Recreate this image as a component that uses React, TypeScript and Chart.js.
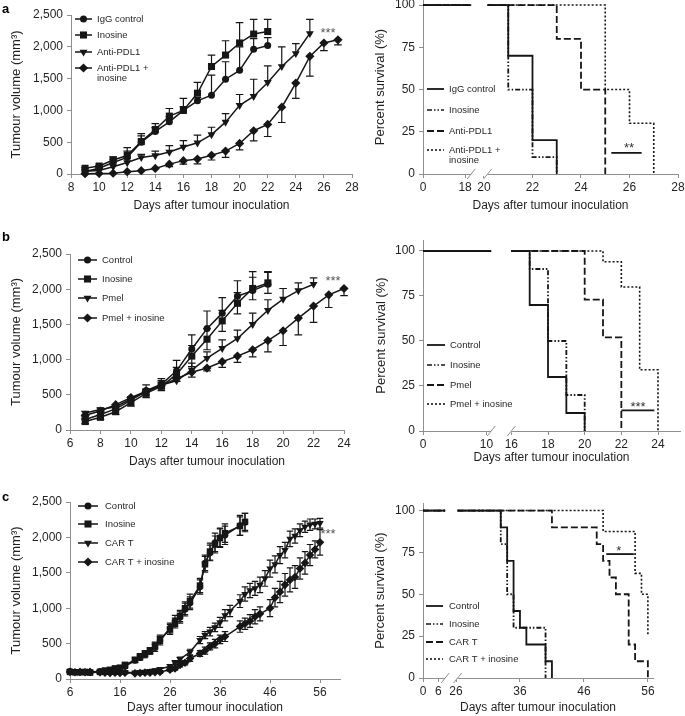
import React, { useEffect, useRef } from 'react';
import { Chart, registerables } from 'chart.js';

Chart.register(...registerables);

const FONT = "'Liberation Sans', Arial, Helvetica, sans-serif";
const TEXT = '#231f20';
const AXIS = '#8f8f8f';
const INK = '#161616';

/* ================= a: tumour volume ================= */
const A_DAYS = [9, 10, 11, 12, 13, 14, 15, 16, 17, 18, 19, 20, 21, 22, 23, 24, 25, 26, 27];
const A_IGG = [40, 90, 180, 260, 500, 670, 820, 1000, 1150, 1240, 1490, 1630, 1960, 2020];
const A_IGG_ERR = [0, 10, 50, 100, 100, 60, 80, 60, 50, 315, 275, 370, 170, 125];
const A_INO = [90, 125, 220, 290, 510, 700, 910, 1000, 1270, 1690, 1870, 2060, 2200, 2240];
const A_INO_ERR = [10, 10, 50, 125, 125, 93, 120, 190, 170, 180, 225, 320, 230, 190];
const A_PDL1 = [45, 55, 115, 180, 260, 290, 345, 425, 490, 620, 815, 1080, 1220, 1440, 1690, 1895, 2210];
const A_PDL1_ERR = [0, 0, 0, 0, 50, 70, 100, 100, 120, 115, 135, 170, 270, 260, 310, 155, 220];
const A_COMBO = [5, 8, 12, 36, 52, 88, 155, 210, 235, 295, 360, 480, 680, 780, 1050, 1430, 1850, 2060, 2110];
const A_COMBO_ERR = [0, 0, 0, 0, 0, 0, 40, 55, 75, 75, 100, 100, 160, 190, 240, 240, 310, 120, 80];
const A_X_TICKS = [8, 10, 12, 14, 16, 18, 20, 22, 24, 26, 28];
const A_LABELS = ['IgG control', 'Inosine', 'Anti-PDL1', 'Anti-PDL1 +\ninosine'];

/* a: survival */
const SA_IGG_T = [0, 21, 22, 23];
const SA_IGG_S = [100, 70, 20, 0];
const SA_INO_T = [0, 21, 22, 23];
const SA_INO_S = [100, 50, 10, 0];
const SA_PDL1_T = [0, 23, 24, 25];
const SA_PDL1_S = [100, 80, 50, 0];
const SA_COMBO_T = [0, 25, 26, 27];
const SA_COMBO_S = [100, 50, 30, 0];
const SA_X_TICKS = [0, 18, 20, 22, 24, 26, 28];
const SA_SIG_X = [25.25, 26.5];
const SA_SIG_Y = 12.5;

/* ================= b ================= */
const B_DAYS = [7, 8, 9, 10, 11, 12, 13, 14, 15, 16, 17, 18, 19, 20, 21, 22, 23, 24];
const B_CTRL = [150, 220, 300, 420, 560, 650, 840, 1150, 1440, 1660, 1900, 1980, 2070];
const B_CTRL_ERR = [20, 30, 30, 40, 80, 80, 150, 200, 250, 220, 220, 270, 180];
const B_INO = [120, 180, 260, 390, 520, 620, 790, 1050, 1290, 1550, 1800, 2010, 2090];
const B_INO_ERR = [30, 30, 40, 50, 60, 60, 100, 150, 150, 150, 150, 160, 150];
const B_PMEL = [240, 290, 330, 440, 540, 640, 700, 850, 1020, 1160, 1300, 1500, 1700, 1860, 1980, 2070];
const B_PMEL_ERR = [20, 20, 30, 30, 40, 60, 60, 100, 90, 120, 120, 160, 150, 150, 110, 90];
const B_COMBO = [210, 270, 360, 460, 550, 630, 730, 820, 880, 970, 1050, 1140, 1270, 1410, 1590, 1760, 1920, 2010];
const B_COMBO_ERR = [20, 20, 30, 40, 50, 40, 40, 70, 40, 80, 90, 100, 160, 210, 240, 230, 180, 100];
const B_X_TICKS = [6, 8, 10, 12, 14, 16, 18, 20, 22, 24];
const B_LABELS = ['Control', 'Inosine', 'Pmel', 'Pmel + inosine'];

const SB_CTRL_T = [0, 17, 18, 19, 20];
const SB_CTRL_S = [100, 70, 30, 10, 0];
const SB_INO_T = [0, 17, 18, 19, 20];
const SB_INO_S = [100, 90, 50, 20, 0];
const SB_PMEL_T = [0, 20, 21, 22];
const SB_PMEL_S = [100, 73, 52, 0];
const SB_COMBO_T = [0, 21, 22, 23, 24];
const SB_COMBO_S = [100, 94, 80, 34, 0];
const SB_X_TICKS = [0, 10, 16, 18, 20, 22, 24];
const SB_SIG_X = [22, 23.8];
const SB_SIG_Y = 11.5;

/* ================= c ================= */
const C_DAYS_CI = [6, 7, 8, 9, 10, 12, 13, 14, 15, 16, 17, 19, 20, 21, 22, 23, 24, 26, 27, 28, 29, 30, 32, 33, 34, 35, 36, 37, 40, 41];
const C_CTRL = [110, 100, 100, 95, 100, 110, 110, 120, 130, 150, 180, 260, 300, 340, 390, 440, 540, 720, 820, 870, 980, 1070, 1300, 1640, 1780, 1930, 2000, 2030, 2170, 2210];
const C_CTRL_ERR = [20, 15, 15, 15, 15, 20, 20, 20, 25, 30, 30, 30, 35, 40, 40, 50, 60, 70, 80, 80, 90, 90, 100, 110, 110, 130, 130, 130, 140, 130];
const C_INO = [100, 95, 95, 100, 90, 100, 120, 130, 150, 160, 200, 270, 320, 360, 400, 470, 560, 700, 790, 890, 1000, 1100, 1320, 1620, 1800, 1900, 1990, 2060, 2160, 2220];
const C_INO_ERR = [15, 15, 15, 15, 15, 20, 20, 25, 25, 30, 30, 35, 35, 40, 45, 50, 60, 70, 70, 80, 90, 100, 100, 110, 120, 120, 130, 130, 130, 120];
const C_DAYS_CART = [6, 7, 8, 9, 10, 12, 13, 14, 15, 16, 17, 19, 20, 21, 22, 23, 24, 26, 27, 28, 30, 32, 33, 34, 35, 36, 37, 38, 40, 41, 42, 43, 44, 45, 46, 47, 48, 49, 50, 51, 52, 53, 54, 55, 56];
const C_CART = [110, 105, 100, 100, 100, 95, 95, 90, 95, 90, 95, 90, 95, 100, 110, 120, 140, 180, 230, 280, 380, 550, 620, 670, 730, 800, 900, 960, 1100, 1200, 1250, 1280, 1330, 1420, 1560, 1620, 1750, 1820, 1980, 2020, 2100, 2150, 2180, 2190, 2200];
const C_CART_ERR = [15, 15, 15, 15, 15, 15, 15, 15, 15, 15, 15, 15, 15, 15, 20, 20, 20, 25, 30, 30, 40, 50, 50, 60, 60, 70, 80, 80, 90, 100, 100, 100, 110, 110, 120, 120, 120, 110, 110, 100, 90, 80, 80, 70, 70];
const C_DAYS_COMBO = [6, 7, 8, 9, 10, 12, 13, 14, 15, 16, 17, 19, 20, 21, 22, 23, 24, 26, 27, 28, 29, 30, 32, 33, 34, 35, 36, 37, 40, 41, 42, 43, 44, 46, 47, 48, 49, 50, 51, 52, 53, 54, 55, 56];
const C_COMBO = [100, 95, 100, 95, 100, 95, 90, 85, 90, 85, 90, 80, 85, 90, 90, 95, 100, 130, 150, 200, 230, 290, 360, 400, 460, 500, 560, 600, 740, 780, 820, 880, 920, 1000, 1150, 1230, 1330, 1400, 1440, 1560, 1640, 1750, 1830, 1930];
const C_COMBO_ERR = [15, 15, 15, 15, 15, 15, 15, 15, 15, 15, 15, 15, 15, 15, 15, 15, 20, 20, 25, 30, 30, 40, 40, 50, 50, 60, 60, 70, 80, 80, 90, 100, 100, 120, 130, 150, 160, 170, 160, 150, 160, 150, 120, 180];
const C_X_TICKS = [6, 16, 26, 36, 46, 56];
const C_LABELS = ['Control', 'Inosine', 'CAR T', 'CAR T + inosine'];

const SC_CTRL_T = [0, 33, 34, 35, 36, 37, 40, 41];
const SC_CTRL_S = [100, 90, 70, 40, 30, 20, 10, 0];
const SC_INO_T = [0, 33, 34, 35, 40];
const SC_INO_S = [100, 80, 50, 30, 0];
const SC_CART_T = [0, 41, 48, 49, 50, 51, 53, 54, 56];
const SC_CART_S = [100, 90, 80, 70, 60, 50, 20, 10, 0];
const SC_COMBO_T = [0, 49, 54, 55, 56];
const SC_COMBO_S = [100, 87.5, 62.5, 50, 25];
const SC_X_TICKS = [0, 6, 26, 36, 46, 56];
const SC_SIG_X = [49.5, 53.8];
const SC_SIG_Y = 74;

const VOL_TICKS = [0, 500, 1000, 1500, 2000, 2500];
const SURV_TICKS = [0, 25, 50, 75, 100];

/* ================= helpers ================= */
type Box = { x: number; y: number; w: number; h: number };
type Area = { l: number; t: number; r: number; b: number };
type Marker = { style: string; r: number; rot: number };
type Brk = { v0: number; k: number; pre: number; gap: [number, number] };

const MK = {
  circle: { style: 'circle', r: 3.5, rot: 0 },
  square: { style: 'rect', r: 5, rot: 0 },
  tri: { style: 'triangle', r: 4.6, rot: 180 },
  diamond: { style: 'rectRot', r: 4.6, rot: 0 },
};
const MK_C = {
  circle: { style: 'circle', r: 3.2, rot: 0 },
  square: { style: 'rect', r: 4.6, rot: 0 },
  tri: { style: 'triangle', r: 4.3, rot: 180 },
  diamond: { style: 'rectRot', r: 4.3, rot: 0 },
};

const DASH_INO = [5, 2, 1.5, 2, 1.5, 2];
const DASH_ANTI = [7, 3];
const DASH_COMBO = [2, 2];

function drawMarker(ctx: CanvasRenderingContext2D, m: Marker, x: number, y: number) {
  ctx.beginPath();
  const r = m.r;
  if (m.style === 'circle') {
    ctx.arc(x, y, r, 0, Math.PI * 2);
  } else if (m.style === 'rect') {
    const s = r * Math.SQRT1_2;
    ctx.rect(x - s, y - s, 2 * s, 2 * s);
  } else if (m.style === 'triangle') {
    let rad = (m.rot * Math.PI) / 180;
    for (let i = 0; i < 3; i++) {
      const px = x + Math.sin(rad) * r;
      const py = y - Math.cos(rad) * r;
      if (i === 0) ctx.moveTo(px, py);
      else ctx.lineTo(px, py);
      rad += (2 * Math.PI) / 3;
    }
    ctx.closePath();
  } else {
    ctx.moveTo(x, y - r);
    ctx.lineTo(x + r, y);
    ctx.lineTo(x, y + r);
    ctx.lineTo(x - r, y);
    ctx.closePath();
  }
  ctx.fillStyle = INK;
  ctx.fill();
}

function volSet(label: string, days: number[], vals: number[], m: Marker) {
  return {
    label,
    data: vals.map((v, i) => ({ x: days[i], y: v })),
    borderColor: INK,
    backgroundColor: INK,
    borderWidth: 1.5,
    pointStyle: m.style,
    pointRadius: m.r,
    pointRotation: m.rot,
    pointBorderWidth: 0,
    pointBackgroundColor: INK,
    tension: 0,
    clip: false,
  };
}

function mapper(b: Brk) {
  return (d: number) => (d <= b.pre ? b.v0 + d * b.k : d);
}

function survPoints(T: number[], S: number[], b: Brk) {
  const map = mapper(b);
  const pts: { x: number; y: number | null }[] = [];
  let prevX = map(T[0]);
  let y = S[0];
  pts.push({ x: prevX, y });
  for (let i = 1; i < T.length; i++) {
    const x = map(T[i]);
    if (prevX < b.gap[0] && x > b.gap[1]) {
      pts.push({ x: b.gap[0], y });
      pts.push({ x: (b.gap[0] + b.gap[1]) / 2, y: null });
      pts.push({ x: b.gap[1], y });
    }
    pts.push({ x, y });
    y = S[i];
    pts.push({ x, y });
    prevX = x;
  }
  return pts;
}

function survSet(label: string, T: number[], S: number[], b: Brk, dash: number[], width = 1.8) {
  return {
    label,
    data: survPoints(T, S, b),
    borderColor: INK,
    borderWidth: width,
    borderDash: dash,
    borderCapStyle: 'butt',
    pointRadius: 0,
    fill: false,
    tension: 0,
    spanGaps: false,
    clip: false,
  };
}

function sigSet(xs: number[], y: number) {
  return {
    label: 'sig',
    data: xs.map((x) => ({ x, y })),
    borderColor: INK,
    borderWidth: 1.8,
    pointRadius: 0,
    fill: false,
    clip: false,
  };
}

type ErrSpec = { days: number[]; vals: number[]; err: number[]; dir: 'up' | 'down' | 'both' };
type LegItem = { label: string; marker?: Marker; dash?: number[]; width?: number };
type Decor = {
  errs?: ErrSpec[];
  cap?: number;
  legend?: { x1: number; x2: number; tx: number; ys: number[]; items: LegItem[] };
  notes?: { x: number; y: number; text: string; size: number; color: string }[];
  brk?: Brk;
};

type Spec = {
  box: Box;
  area: Area;
  datasets: any[];
  x: { min: number; max: number; ticks: number[]; labels?: string[]; title: string; titlePad: number };
  y: { min: number; max: number; ticks: number[]; fmt: (v: number) => string; title: string; titlePad: number };
  decor: Decor;
};

function decorPlugin(spec: Spec) {
  const { box, decor } = spec;
  return {
    id: 'decor',
    beforeDatasetsDraw(chart: any) {
      if (!decor.errs) return;
      const ctx: CanvasRenderingContext2D = chart.ctx;
      const xs = chart.scales.x;
      const ys = chart.scales.y;
      const cap = decor.cap || 3.5;
      ctx.save();
      ctx.strokeStyle = INK;
      ctx.lineWidth = 1.2;
      ctx.setLineDash([]);
      for (const e of decor.errs) {
        e.vals.forEach((v, i) => {
          const d = e.err[i];
          if (!d) return;
          const px = xs.getPixelForValue(e.days[i]);
          const hi = e.dir === 'down' ? v : v + d;
          const lo = e.dir === 'up' ? v : v - d;
          const y1 = ys.getPixelForValue(hi);
          const y2 = ys.getPixelForValue(lo);
          ctx.beginPath();
          ctx.moveTo(px, y1);
          ctx.lineTo(px, y2);
          if (e.dir !== 'down') {
            ctx.moveTo(px - cap, y1);
            ctx.lineTo(px + cap, y1);
          }
          if (e.dir !== 'up') {
            ctx.moveTo(px - cap, y2);
            ctx.lineTo(px + cap, y2);
          }
          ctx.stroke();
        });
      }
      ctx.restore();
    },
    afterDraw(chart: any) {
      const ctx: CanvasRenderingContext2D = chart.ctx;
      const xs = chart.scales.x;
      const ys = chart.scales.y;
      ctx.save();
      // axis break
      if (decor.brk) {
        const yp = chart.chartArea.bottom;
        const p1 = xs.getPixelForValue(decor.brk.gap[0]);
        const p2 = xs.getPixelForValue(decor.brk.gap[1]);
        ctx.fillStyle = '#ffffff';
        ctx.fillRect(p1, yp - 2, p2 - p1, 4);
        ctx.strokeStyle = AXIS;
        ctx.lineWidth = 1;
        ctx.setLineDash([]);
        for (const p of [p1, p2]) {
          ctx.beginPath();
          ctx.moveTo(p - 4, yp + 5);
          ctx.lineTo(p + 4, yp - 5);
          ctx.stroke();
        }
      }
      // legend
      if (decor.legend) {
        const L = decor.legend;
        ctx.font = `9.5px ${FONT}`;
        ctx.textBaseline = 'middle';
        ctx.textAlign = 'left';
        L.items.forEach((it, i) => {
          const y = L.ys[i] - box.y;
          const x1 = L.x1 - box.x;
          const x2 = L.x2 - box.x;
          ctx.strokeStyle = INK;
          ctx.lineWidth = it.width || 1.5;
          ctx.setLineDash(it.dash || []);
          ctx.beginPath();
          ctx.moveTo(x1, y);
          ctx.lineTo(x2, y);
          ctx.stroke();
          ctx.setLineDash([]);
          if (it.marker) drawMarker(ctx, it.marker, (x1 + x2) / 2, y);
          ctx.fillStyle = TEXT;
          it.label.split('\n').forEach((ln, j) => {
            ctx.fillText(ln, L.tx - box.x, y + j * 10.5);
          });
        });
      }
      // notes (significance asterisks)
      if (decor.notes) {
        for (const n of decor.notes) {
          ctx.font = `${n.size}px ${FONT}`;
          ctx.fillStyle = n.color;
          ctx.textAlign = 'center';
          ctx.textBaseline = 'alphabetic';
          const px = xs.getPixelForValue(n.x);
          const py = ys.getPixelForValue(n.y);
          ctx.fillText(n.text, px, py + n.size * 0.575);
        }
      }
      ctx.restore();
    },
  };
}

function buildChart(canvas: HTMLCanvasElement, spec: Spec) {
  const { box, area } = spec;
  const xH = box.y + box.h - area.b;
  const yW = area.l - box.x;
  const tickFont = { family: FONT, size: 12 };
  const xLabel = (v: number) => {
    if (spec.x.labels) {
      let best = 0;
      spec.x.ticks.forEach((t, i) => {
        if (Math.abs(t - v) < Math.abs(spec.x.ticks[best] - v)) best = i;
      });
      return spec.x.labels[best];
    }
    return String(v);
  };
  return new Chart(canvas, {
    type: 'line',
    data: { datasets: spec.datasets },
    options: {
      animation: false,
      responsive: false,
      maintainAspectRatio: false,
      devicePixelRatio: 1,
      events: [],
      layout: { padding: { left: 0, top: area.t - box.y, right: box.x + box.w - area.r, bottom: 0 } },
      plugins: { legend: { display: false }, tooltip: { enabled: false } },
      scales: {
        x: {
          type: 'linear',
          position: 'bottom',
          min: spec.x.min,
          max: spec.x.max,
          afterBuildTicks: (s: any) => {
            s.ticks = spec.x.ticks.map((v) => ({ value: v }));
          },
          afterFit: (s: any) => {
            s.height = xH;
            s.paddingLeft = 0;
            s.paddingRight = 0;
          },
          grid: { drawOnChartArea: false, drawTicks: true, tickLength: 4, color: AXIS, lineWidth: 1 },
          border: { display: true, color: AXIS, width: 1 },
          ticks: {
            autoSkip: false,
            maxRotation: 0,
            minRotation: 0,
            padding: 2,
            color: TEXT,
            font: tickFont,
            callback: (v: any) => xLabel(Number(v)),
          },
          title: {
            display: true,
            text: spec.x.title,
            color: TEXT,
            font: { family: FONT, size: 12 },
            padding: { top: 0, bottom: spec.x.titlePad },
          },
        },
        y: {
          type: 'linear',
          position: 'left',
          min: spec.y.min,
          max: spec.y.max,
          afterBuildTicks: (s: any) => {
            s.ticks = spec.y.ticks.map((v) => ({ value: v }));
          },
          afterFit: (s: any) => {
            s.width = yW;
            s.paddingTop = 0;
            s.paddingBottom = 0;
          },
          grid: { drawOnChartArea: false, drawTicks: true, tickLength: 4, color: AXIS, lineWidth: 1 },
          border: { display: true, color: AXIS, width: 1 },
          ticks: {
            autoSkip: false,
            padding: 4,
            color: TEXT,
            font: tickFont,
            callback: (v: any) => spec.y.fmt(Number(v)),
          },
          title: {
            display: true,
            text: spec.y.title,
            color: TEXT,
            font: { family: FONT, size: 13 },
            padding: { top: spec.y.titlePad, bottom: 0 },
          },
        },
      },
    } as any,
    plugins: [decorPlugin(spec) as any],
  });
}

const volFmt = (v: number) => v.toLocaleString('en-US');
const VOL_TITLE = 'Tumour volume (mm³)';
const SURV_TITLE = 'Percent survival (%)';
const X_TITLE = 'Days after tumour inoculation';

/* ================= specs ================= */
const SA_BRK: Brk = { v0: 17.485, k: 0.0964, pre: 18, gap: [19.47, 20.15] };
const SB_BRK: Brk = { v0: 11.18, k: 0.346, pre: 10, gap: [14.9, 16.0] };
const SC_BRK: Brk = { v0: 20.84, k: 0.4, pre: 6, gap: [24.3, 26.25] };

function specs(): Spec[] {
  const aL: Spec = {
    box: { x: 0, y: 0, w: 362, h: 216 },
    area: { l: 71, t: 15, r: 352, b: 174 },
    datasets: [
      volSet(A_LABELS[0], A_DAYS, A_IGG, MK.circle),
      volSet(A_LABELS[1], A_DAYS, A_INO, MK.square),
      volSet(A_LABELS[2], A_DAYS, A_PDL1, MK.tri),
      volSet(A_LABELS[3], A_DAYS, A_COMBO, MK.diamond),
    ],
    x: { min: 8, max: 28, ticks: A_X_TICKS, title: X_TITLE, titlePad: 2.8 },
    y: { min: 0, max: 2500, ticks: VOL_TICKS, fmt: volFmt, title: VOL_TITLE, titlePad: 8.2 },
    decor: {
      cap: 3.8,
      errs: [
        { days: A_DAYS, vals: A_IGG, err: A_IGG_ERR, dir: 'up' },
        { days: A_DAYS, vals: A_INO, err: A_INO_ERR, dir: 'up' },
        { days: A_DAYS, vals: A_PDL1, err: A_PDL1_ERR, dir: 'up' },
        { days: A_DAYS, vals: A_COMBO, err: A_COMBO_ERR, dir: 'down' },
      ],
      legend: {
        x1: 75, x2: 92, tx: 97, ys: [19, 35, 52, 68],
        items: [
          { label: A_LABELS[0], marker: MK.circle },
          { label: A_LABELS[1], marker: MK.square },
          { label: A_LABELS[2], marker: MK.tri },
          { label: A_LABELS[3], marker: MK.diamond },
        ],
      },
      notes: [{ x: 26.29, y: 2264, text: '***', size: 13, color: '#555' }],
    },
  };
  const aR: Spec = {
    box: { x: 366, y: 0, w: 319, h: 216 },
    area: { l: 423, t: 0, r: 678, b: 174 },
    datasets: [
      survSet(A_LABELS[0], SA_IGG_T, SA_IGG_S, SA_BRK, []),
      survSet(A_LABELS[1], SA_INO_T, SA_INO_S, SA_BRK, DASH_INO),
      survSet(A_LABELS[2], SA_PDL1_T, SA_PDL1_S, SA_BRK, DASH_ANTI),
      survSet(A_LABELS[3], SA_COMBO_T, SA_COMBO_S, SA_BRK, DASH_COMBO, 1.6),
      sigSet(SA_SIG_X, SA_SIG_Y),
    ],
    x: {
      min: SA_BRK.v0, max: 28, ticks: SA_X_TICKS.map(mapper(SA_BRK)), labels: SA_X_TICKS.map(String),
      title: X_TITLE, titlePad: 2.8,
    },
    y: { min: 0, max: 103, ticks: SURV_TICKS, fmt: (v) => String(v), title: SURV_TITLE, titlePad: 6.2 },
    decor: {
      brk: SA_BRK,
      legend: {
        x1: 427, x2: 444, tx: 449, ys: [89, 110, 131, 150],
        items: [
          { label: A_LABELS[0], width: 1.8 },
          { label: A_LABELS[1], dash: DASH_INO, width: 1.6 },
          { label: A_LABELS[2], dash: DASH_ANTI, width: 1.8 },
          { label: A_LABELS[3], dash: DASH_COMBO, width: 1.6 },
        ],
      },
      notes: [{ x: 25.98, y: 17.2, text: '**', size: 13, color: '#333' }],
    },
  };
  const bL: Spec = {
    box: { x: 0, y: 222, w: 362, h: 250 },
    area: { l: 70, t: 254, r: 344, b: 430 },
    datasets: [
      volSet(B_LABELS[0], B_DAYS, B_CTRL, MK.circle),
      volSet(B_LABELS[1], B_DAYS, B_INO, MK.square),
      volSet(B_LABELS[2], B_DAYS, B_PMEL, MK.tri),
      volSet(B_LABELS[3], B_DAYS, B_COMBO, MK.diamond),
    ],
    x: { min: 6, max: 24, ticks: B_X_TICKS, title: X_TITLE, titlePad: 2.8 },
    y: { min: 0, max: 2500, ticks: VOL_TICKS, fmt: volFmt, title: VOL_TITLE, titlePad: 8.2 },
    decor: {
      cap: 3.8,
      errs: [
        { days: B_DAYS, vals: B_CTRL, err: B_CTRL_ERR, dir: 'up' },
        { days: B_DAYS, vals: B_INO, err: B_INO_ERR, dir: 'both' },
        { days: B_DAYS, vals: B_PMEL, err: B_PMEL_ERR, dir: 'up' },
        { days: B_DAYS, vals: B_COMBO, err: B_COMBO_ERR, dir: 'down' },
      ],
      legend: {
        x1: 78, x2: 97, tx: 102, ys: [260, 279, 298, 318],
        items: [
          { label: B_LABELS[0], marker: MK.circle },
          { label: B_LABELS[1], marker: MK.square },
          { label: B_LABELS[2], marker: MK.tri },
          { label: B_LABELS[3], marker: MK.diamond },
        ],
      },
      notes: [{ x: 23.28, y: 2163, text: '***', size: 13, color: '#555' }],
    },
  };
  const bR: Spec = {
    box: { x: 366, y: 222, w: 319, h: 250 },
    area: { l: 423, t: 240, r: 680, b: 431 },
    datasets: [
      survSet(B_LABELS[0], SB_CTRL_T, SB_CTRL_S, SB_BRK, []),
      survSet(B_LABELS[1], SB_INO_T, SB_INO_S, SB_BRK, DASH_INO),
      survSet(B_LABELS[2], SB_PMEL_T, SB_PMEL_S, SB_BRK, DASH_ANTI),
      survSet(B_LABELS[3], SB_COMBO_T, SB_COMBO_S, SB_BRK, DASH_COMBO, 1.6),
      sigSet(SB_SIG_X, SB_SIG_Y),
    ],
    x: {
      min: SB_BRK.v0, max: 25.2, ticks: SB_X_TICKS.map(mapper(SB_BRK)), labels: SB_X_TICKS.map(String),
      title: X_TITLE, titlePad: 6.8,
    },
    y: { min: 0, max: 106.1, ticks: SURV_TICKS, fmt: (v) => String(v), title: SURV_TITLE, titlePad: 7.9 },
    decor: {
      brk: SB_BRK,
      legend: {
        x1: 427, x2: 445, tx: 450, ys: [345, 365, 385, 404],
        items: [
          { label: B_LABELS[0], width: 1.8 },
          { label: B_LABELS[1], dash: DASH_INO, width: 1.6 },
          { label: B_LABELS[2], dash: DASH_ANTI, width: 1.8 },
          { label: B_LABELS[3], dash: DASH_COMBO, width: 1.6 },
        ],
      },
      notes: [{ x: 22.91, y: 15.4, text: '***', size: 13, color: '#333' }],
    },
  };
  const cL: Spec = {
    box: { x: 0, y: 478, w: 362, h: 238 },
    area: { l: 70, t: 502, r: 340, b: 679 },
    datasets: [
      volSet(C_LABELS[0], C_DAYS_CI, C_CTRL, MK_C.circle),
      volSet(C_LABELS[1], C_DAYS_CI, C_INO, MK_C.square),
      volSet(C_LABELS[2], C_DAYS_CART, C_CART, MK_C.tri),
      volSet(C_LABELS[3], C_DAYS_COMBO, C_COMBO, MK_C.diamond),
    ],
    x: { min: 6, max: 60, ticks: C_X_TICKS, title: X_TITLE, titlePad: 0.8 },
    y: { min: 0, max: 2500, ticks: VOL_TICKS, fmt: volFmt, title: VOL_TITLE, titlePad: 8.2 },
    decor: {
      cap: 3.2,
      errs: [
        { days: C_DAYS_CI, vals: C_CTRL, err: C_CTRL_ERR, dir: 'both' },
        { days: C_DAYS_CI, vals: C_INO, err: C_INO_ERR, dir: 'both' },
        { days: C_DAYS_CART, vals: C_CART, err: C_CART_ERR, dir: 'both' },
        { days: C_DAYS_COMBO, vals: C_COMBO, err: C_COMBO_ERR, dir: 'both' },
      ],
      legend: {
        x1: 78, x2: 98, tx: 105, ys: [506, 524, 543, 562],
        items: [
          { label: C_LABELS[0], marker: MK.circle },
          { label: C_LABELS[1], marker: MK.square },
          { label: C_LABELS[2], marker: MK.tri },
          { label: C_LABELS[3], marker: MK.diamond },
        ],
      },
      notes: [{ x: 57.6, y: 2101, text: '***', size: 13, color: '#555' }],
    },
  };
  const cR: Spec = {
    box: { x: 366, y: 478, w: 319, h: 238 },
    area: { l: 423, t: 503, r: 653, b: 678 },
    datasets: [
      survSet(C_LABELS[0], SC_CTRL_T, SC_CTRL_S, SC_BRK, []),
      survSet(C_LABELS[1], SC_INO_T, SC_INO_S, SC_BRK, DASH_INO),
      survSet(C_LABELS[2], SC_CART_T, SC_CART_S, SC_BRK, DASH_ANTI),
      survSet(C_LABELS[3], SC_COMBO_T, SC_COMBO_S, SC_BRK, DASH_COMBO, 1.6),
      sigSet(SC_SIG_X, SC_SIG_Y),
    ],
    x: {
      min: SC_BRK.v0, max: 56.8, ticks: SC_X_TICKS.map(mapper(SC_BRK)), labels: SC_X_TICKS.map(String),
      title: X_TITLE, titlePad: 0.8,
    },
    y: { min: 0, max: 104.5, ticks: SURV_TICKS, fmt: (v) => String(v), title: SURV_TITLE, titlePad: 6.2 },
    decor: {
      brk: SC_BRK,
      legend: {
        x1: 426, x2: 443, tx: 449, ys: [606, 624, 642, 659],
        items: [
          { label: C_LABELS[0], width: 1.8 },
          { label: C_LABELS[1], dash: DASH_INO, width: 1.6 },
          { label: C_LABELS[2], dash: DASH_ANTI, width: 1.8 },
          { label: C_LABELS[3], dash: DASH_COMBO, width: 1.6 },
        ],
      },
      notes: [{ x: 51.45, y: 77.9, text: '*', size: 13, color: '#333' }],
    },
  };
  return [aL, aR, bL, bR, cL, cR];
}

function ChartCanvas({ spec }: { spec: Spec }) {
  const ref = useRef<HTMLCanvasElement>(null);
  useEffect(() => {
    const ch = buildChart(ref.current as HTMLCanvasElement, spec);
    return () => ch.destroy();
  }, []);
  const { box } = spec;
  return (
    <div style={{ position: 'absolute', left: box.x, top: box.y, width: box.w, height: box.h }}>
      <canvas ref={ref} width={box.w} height={box.h} style={{ display: 'block', width: box.w, height: box.h }} />
    </div>
  );
}

const letterStyle = (top: number): React.CSSProperties => ({
  position: 'absolute',
  left: 2,
  top,
  font: `bold 13px ${FONT}`,
  color: '#000',
  lineHeight: '15px',
});

export default function App() {
  const all = specs();
  return (
    <div style={{ position: 'absolute', left: 0, top: 0, width: 685, height: 716, background: '#fff', overflow: 'hidden' }}>
      {all.map((s, i) => (
        <ChartCanvas key={i} spec={s} />
      ))}
      <div style={letterStyle(1)}>a</div>
      <div style={letterStyle(229)}>b</div>
      <div style={letterStyle(489)}>c</div>
    </div>
  );
}
